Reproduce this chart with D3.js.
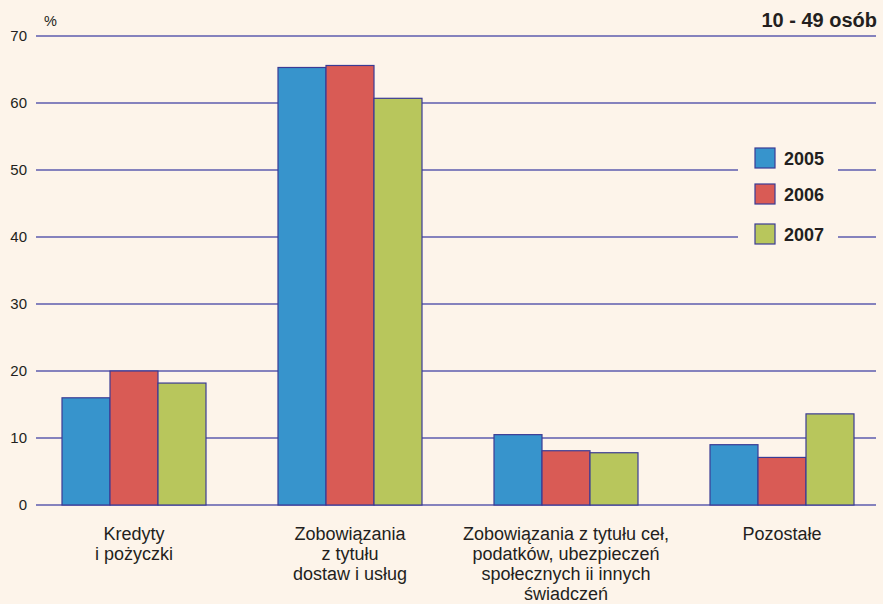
<!DOCTYPE html>
<html><head><meta charset="utf-8">
<script src="https://cdn.jsdelivr.net/npm/d3@7"></script>
<style>body{margin:0;background:#fdf4ea;}svg{display:block;font-family:"Liberation Sans",Arial,sans-serif;}</style>
</head><body>
<script>
const categories = [
  ["Kredyty", "i pożyczki"],
  ["Zobowiązania", "z tytułu", "dostaw i usług"],
  ["Zobowiązania z tytułu ceł,", "podatków, ubezpieczeń", "społecznych ii innych", "świadczeń"],
  ["Pozostałe"]
];
const years = ["2005", "2006", "2007"];
const values2005 = [16.0, 65.3, 10.5, 9.0];
const values2006 = [20.0, 65.6, 8.1, 7.1];
const values2007 = [18.2, 60.7, 7.8, 13.6];
const yTicks = [0, 10, 20, 30, 40, 50, 60, 70];
const colors = ["#3794cc", "#d95b55", "#b8c65c"];
const series = [values2005, values2006, values2007];

const W = 883, H = 604;
const svg = d3.select("body").append("svg").attr("width", W).attr("height", H);
svg.append("rect").attr("width", W).attr("height", H).attr("fill", "#fdf4ea");

const y = d3.scaleLinear().domain([0, 70]).range([505, 36]);
const x0 = d3.scaleBand().domain(d3.range(categories.length)).range([26, 890]).paddingInner(1/3).paddingOuter(1/6);
const x1 = d3.scaleBand().domain(d3.range(years.length)).range([0, x0.bandwidth()]);

// grid
const grid = svg.append("g");
grid.selectAll("line").data(yTicks).join("line")
  .attr("x1", 36).attr("x2", 876)
  .attr("y1", d => y(d)).attr("y2", d => y(d))
  .attr("stroke", "#5c5cae").attr("stroke-width", 1.3);

// y axis labels
const yAxis = d3.axisLeft(y).tickValues(yTicks).tickSize(0).tickPadding(0);
const ga = svg.append("g").attr("transform", "translate(27,0)").call(yAxis);
ga.select(".domain").remove();
ga.selectAll("text").attr("font-size", 15).attr("fill", "#231f20").attr("font-family", "Liberation Sans, Arial, sans-serif");

svg.append("text").attr("x", 44).attr("y", 26).attr("font-size", 14.5).attr("fill", "#231f20").text("%");
svg.append("text").attr("x", 877).attr("y", 27).attr("text-anchor", "end").attr("font-size", 20).attr("font-weight", "bold").attr("fill", "#231f20").text("10 - 49 osób");

// bars
const groups = svg.append("g").selectAll("g").data(categories).join("g")
  .attr("transform", (d, i) => `translate(${x0(i)},0)`);
groups.selectAll("rect").data((d, i) => series.map((s, k) => ({k, v: s[i]}))).join("rect")
  .attr("x", d => x1(d.k)).attr("width", x1.bandwidth())
  .attr("y", d => y(d.v)).attr("height", d => y(0) - y(d.v))
  .attr("fill", d => colors[d.k]).attr("stroke", "#3b3b94").attr("stroke-width", 1.2);

// category labels
groups.append("text").attr("text-anchor", "middle").attr("x", x0.bandwidth() / 2)
  .attr("font-size", 18).attr("fill", "#231f20")
  .selectAll("tspan").data(d => d).join("tspan")
  .attr("x", x0.bandwidth() / 2).attr("y", (d, i) => 540 + i * 20).text(d => d);

// legend
const lg = svg.append("g");
lg.append("rect").attr("x", 738).attr("y", 135).attr("width", 100).attr("height", 120).attr("fill", "#fdf4ea");
const legendY = [148, 184, 224];
years.forEach((yr, k) => {
  lg.append("rect").attr("x", 755).attr("y", legendY[k]).attr("width", 20).attr("height", 20)
    .attr("fill", colors[k]).attr("stroke", "#3b3b94").attr("stroke-width", 1.2);
  lg.append("text").attr("x", 784).attr("y", legendY[k] + 17).attr("font-size", 18).attr("font-weight", "bold")
    .attr("fill", "#231f20").text(yr);
});
</script>
</body></html>
